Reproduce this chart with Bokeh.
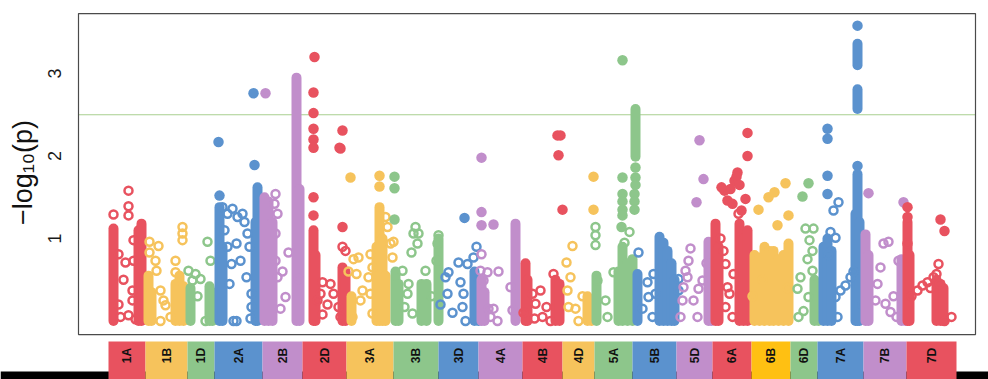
import numpy as np
from bokeh.plotting import figure
from bokeh.models import Range1d, ColumnDataSource
from bokeh.embed import file_html
from bokeh.resources import INLINE
from bokeh.core.properties import value

# ---------------- data ----------------
chrom_names = ["1A", "1B", "1D", "2A", "2B", "2D", "3A", "3B", "3D", "4A", "4B",
               "4D", "5A", "5B", "5D", "6A", "6B", "6D", "7A", "7B", "7D"]
chrom_len = [37, 42, 27, 48, 40, 44, 47, 45, 40, 44, 40, 32, 38, 44, 36, 39, 39, 27, 46, 43, 50]
palette = ["#E8525F", "#F6C35C", "#8DC68B", "#5B92CE", "#C18ECB"]
box_colors = [palette[i % 5] for i in range(len(chrom_names))]
box_colors[chrom_names.index("6B")] = "#FFC012"
threshold = 2.5
y_ticks = [1, 2, 3]
y_label = "\u2212log\u2081\u2080(p)"

# dense runs of markers: (chrom, position, low, high)
stacks = [
    ("1A", 5, 0, 1.12), ("1A", 30, 0, 1.1), ("1A", 33, 0, 1.18),
    ("1B", 3, 0, 0.55), ("1B", 6, 0, 0.35), ("1B", 30, 0, 0.45), ("1B", 34, 0, 0.55), ("1B", 38, 0, 0.42),
    ("1D", 3, 0, 0.4), ("1D", 22, 0, 0.42), ("1D", 25, 0, 0.35),
    ("2A", 5, 0, 1.38), ("2A", 8, 0, 0.9), ("2A", 41, 0, 1.2), ("2A", 43, 0, 1.62),
    ("2B", 2, 0, 1.5), ("2B", 6, 0, 1.45), ("2B", 10, 0, 1.2), ("2B", 34, 0, 2.95), ("2B", 37, 0, 1.6),
    ("2D", 11, 0, 1.1), ("2D", 13, 0, 0.8), ("2D", 40, 0, 0.65), ("2D", 43, 0, 0.6),
    ("3A", 5, 0, 0.3), ("3A", 30, 0, 0.9), ("3A", 33, 0, 1.38), ("3A", 36, 0, 1.0), ("3A", 39, 0, 0.55),
    ("3B", 2, 0, 0.6), ("3B", 5, 0, 0.45), ("3B", 28, 0, 0.45), ("3B", 33, 0, 0.45), ("3B", 45, 0, 1.0),
    ("3D", 36, 0, 0.6), ("3D", 40, 0, 0.45),
    ("4A", 3, 0, 0.5), ("4A", 6, 0, 0.35), ("4A", 37, 0, 1.18),
    ("4B", 3, 0, 0.7), ("4B", 5, 0, 0.5), ("4B", 33, 0, 0.5), ("4B", 37, 0, 0.45),
    ("4D", 25, 0, 0.3), ("4D", 29, 0, 0.25),
    ("5A", 2, 0, 0.55), ("5A", 24, 0, 0.6), ("5A", 28, 0, 0.9), ("5A", 33, 0, 0.7), ("5A", 38, 0, 0.75),
    ("5A", 41, 1.99, 2.57),
    ("5B", 5, 0, 0.57), ("5B", 27, 0, 1.02), ("5B", 31, 0, 0.95), ("5B", 35, 0, 0.85), ("5B", 39, 0, 0.7), ("5B", 42, 0, 0.5),
    ("5D", 32, 0, 0.96), ("5D", 35, 0, 0.7),
    ("6A", 3, 0, 1.18), ("6A", 6, 0, 0.9), ("6A", 27, 0, 1.18), ("6A", 31, 0, 1.0), ("6A", 35, 0, 1.1),
    ("6B", 3, 0, 0.8), ("6B", 8, 0, 0.77), ("6B", 13, 0, 0.9), ("6B", 18, 0, 0.85), ("6B", 22, 0, 0.85),
    ("6B", 27, 0, 0.75), ("6B", 32, 0, 0.8), ("6B", 37, 0, 0.94),
    ("6D", 24, 0, 0.5), ("6D", 28, 0, 0.45),
    ("7A", 6, 0, 0.9), ("7A", 10, 0, 1.0), ("7A", 14, 0, 0.85), ("7A", 38, 0, 1.3), ("7A", 40, 0, 1.78),
    ("7A", 42, 0, 1.2), ("7A", 40, 3.1, 3.36), ("7A", 40, 2.57, 2.81),
    ("7B", 2, 0, 1.05), ("7B", 5, 0, 0.8), ("7B", 38, 0, 0.75), ("7B", 42, 0, 0.65),
    ("7D", 1, 0, 1.2), ("7D", 3, 0, 0.8), ("7D", 30, 0, 0.5), ("7D", 34, 0, 0.45), ("7D", 37, 0, 0.4),
]

# strong markers (drawn filled): (chrom, position, -log10 p)
hits = [
    ("2A", 4, 2.17), ("2A", 39, 2.76), ("2A", 40, 1.89), ("2A", 5, 1.52),
    ("2B", 3, 2.76),
    ("2D", 12, 3.2), ("2D", 11, 2.77), ("2D", 11, 2.52), ("2D", 11, 2.33), ("2D", 11, 2.2), ("2D", 11, 2.1),
    ("2D", 11, 1.5), ("2D", 11, 1.28), ("2D", 40, 2.31), ("2D", 38, 2.09), ("2D", 37, 2.1), ("2D", 40, 1.14),
    ("3A", 4, 1.74), ("3A", 33, 1.76), ("3A", 33, 1.63),
    ("3B", 1, 1.75), ("3B", 1, 1.61), ("3B", 1, 1.23),
    ("3D", 26, 1.25),
    ("4A", 3, 1.98), ("4A", 3, 1.32), ("4A", 3, 1.16), ("4A", 15, 1.17),
    ("4B", 35, 2.25), ("4B", 38, 2.25), ("4B", 36, 2.01), ("4B", 40, 1.35),
    ("4D", 31, 1.75), ("4D", 31, 1.35),
    ("5A", 28, 3.16), ("5A", 28, 1.74), ("5A", 28, 1.54), ("5A", 28, 1.45), ("5A", 28, 1.35), ("5A", 28, 1.28),
    ("5A", 40, 1.54), ("5A", 40, 1.45), ("5A", 40, 1.35), ("5A", 41, 1.86), ("5A", 41, 1.74), ("5A", 41, 1.65),
    ("5A", 27, 1.14),
    ("5D", 23, 2.19), ("5D", 27, 1.72), ("5D", 20, 1.44),
    ("6A", 35, 2.28), ("6A", 35, 2.0), ("6A", 25, 1.8), ("6A", 22, 1.7), ("6A", 18, 1.6), ("6A", 12, 1.58),
    ("6A", 9, 1.62), ("6A", 15, 1.46), ("6A", 20, 1.42), ("6A", 33, 1.48), ("6A", 29, 1.34), ("6A", 24, 1.75),
    ("6A", 27, 1.65),
    ("6B", 7, 1.35), ("6B", 17, 1.5), ("6B", 23, 1.56), ("6B", 26, 1.16), ("6B", 34, 1.67), ("6B", 37, 1.28),
    ("6D", 18, 1.67), ("6D", 12, 1.51),
    ("7A", 10, 2.33), ("7A", 10, 2.21), ("7A", 10, 1.76), ("7A", 10, 1.54), ("7A", 40, 3.58), ("7A", 40, 1.88),
    ("7B", 5, 1.55), ("7B", 40, 1.44),
    ("7D", 1, 1.38), ("7D", 1, 1.26), ("7D", 34, 1.23), ("7D", 38, 1.09),
]

# other markers (drawn hollow): (chrom, position, -log10 p)
rings = [
    ("1A", 10, 0.81), ("1A", 17, 0.71), ("1A", 10, 0.2), ("1A", 12, 0.05), ("1A", 20, 0.07), ("1A", 25, 0.98),
    ("1A", 25, 0.73), ("1A", 24, 0.37), ("1A", 24, 0.25), ("1A", 20, 1.58), ("1A", 20, 1.39), ("1A", 20, 1.28),
    ("1A", 5, 1.29), ("1A", 15, 0.5), ("1A", 27, 0.02),
    ("1B", 4, 0.96), ("1B", 4, 0.83), ("1B", 10, 0.73), ("1B", 11, 0.61), ("1B", 13, 0.91), ("1B", 15, 0.37),
    ("1B", 18, 0.25), ("1B", 20, 0.19), ("1B", 15, 0.0), ("1B", 30, 0.73), ("1B", 30, 0.59), ("1B", 37, 1.14),
    ("1B", 37, 1.06), ("1B", 37, 0.98), ("1B", 25, 0.05),
    ("1D", 1, 0.61), ("1D", 8, 0.57), ("1D", 13, 0.51), ("1D", 20, 0.96), ("1D", 23, 0.73), ("1D", 5, 0.49),
    ("1D", 18, 0.0), ("1D", 10, 0.3),
    ("2A", 8, 1.38), ("2A", 13, 1.3), ("2A", 18, 1.36), ("2A", 23, 1.26), ("2A", 28, 1.3), ("2A", 10, 1.1),
    ("2A", 13, 0.9), ("2A", 17, 0.69), ("2A", 22, 0.94), ("2A", 26, 0.73), ("2A", 33, 1.06), ("2A", 35, 0.9),
    ("2A", 32, 0.53), ("2A", 37, 0.33), ("2A", 37, 0.17), ("2A", 19, 0.0), ("2A", 22, 0.0), ("2A", 36, 0.03),
    ("2A", 30, 1.2), ("2A", 15, 0.45),
    ("2B", 13, 1.54), ("2B", 12, 1.42), ("2B", 15, 1.3), ("2B", 13, 1.06), ("2B", 13, 0.73), ("2B", 15, 0.53),
    ("2B", 23, 0.29), ("2B", 26, 0.83), ("2B", 18, 0.15), ("2B", 36, 0.51), ("2B", 20, 0.6),
    ("2D", 20, 0.47), ("2D", 28, 0.45), ("2D", 31, 0.33), ("2D", 36, 0.17), ("2D", 20, 0.08), ("2D", 18, 0.33),
    ("2D", 38, 0.05), ("2D", 40, 0.9), ("2D", 43, 0.85), ("2D", 15, 0.25), ("2D", 25, 0.2),
    ("3A", 7, 0.75), ("3A", 12, 0.77), ("3A", 10, 0.57), ("3A", 16, 0.37), ("3A", 14, 0.25), ("3A", 6, 0.05),
    ("3A", 24, 0.81), ("3A", 26, 0.65), ("3A", 22, 0.53), ("3A", 24, 0.33), ("3A", 26, 0.09), ("3A", 44, 0.94),
    ("3A", 47, 0.96), ("3A", 46, 0.77), ("3A", 41, 1.14), ("3A", 39, 1.26), ("3A", 2, 0.6),
    ("3B", 9, 0.61), ("3B", 15, 0.45), ("3B", 14, 0.33), ("3B", 11, 0.17), ("3B", 19, 0.09), ("3B", 22, 1.14),
    ("3B", 20, 1.06), ("3B", 24, 0.94), ("3B", 18, 0.83), ("3B", 25, 1.06), ("3B", 32, 0.61), ("3B", 45, 1.04),
    ("3B", 44, 0.94), ("3B", 43, 0.73), ("3B", 38, 0.3),
    ("3D", 10, 0.59), ("3D", 7, 0.53), ("3D", 9, 0.33), ("3D", 20, 0.71), ("3D", 29, 0.69), ("3D", 22, 0.47),
    ("3D", 25, 0.33), ("3D", 24, 0.17), ("3D", 27, 0.0), ("3D", 35, 0.77), ("3D", 38, 0.9), ("3D", 2, 0.2),
    ("3D", 14, 0.1),
    ("4A", 3, 0.81), ("4A", 2, 0.61), ("4A", 5, 0.49), ("4A", 9, 0.59), ("4A", 10, 0.15), ("4A", 15, 0.15),
    ("4A", 19, 0.0), ("4A", 12, 0.05), ("4A", 32, 0.41), ("4A", 34, 0.13), ("4A", 20, 0.6),
    ("4B", 10, 0.33), ("4B", 18, 0.37), ("4B", 13, 0.21), ("4B", 20, 0.05), ("4B", 12, 0.03), ("4B", 24, 0.17),
    ("4B", 28, 0.0), ("4B", 31, 0.57), ("4B", 1, 0.1),
    ("4D", 10, 0.91), ("4D", 4, 0.71), ("4D", 8, 0.53), ("4D", 5, 0.37), ("4D", 6, 0.17), ("4D", 13, 0.15),
    ("4D", 16, 0.0), ("4D", 20, 0.3),
    ("5A", 1, 1.14), ("5A", 1, 1.04), ("5A", 1, 0.92), ("5A", 3, 0.49), ("5A", 13, 0.05), ("5A", 19, 0.59),
    ("5A", 11, 0.25), ("5A", 35, 1.08), ("5A", 30, 0.95),
    ("5B", 6, 0.83), ("5B", 15, 0.47), ("5B", 21, 0.57), ("5B", 23, 0.33), ("5B", 16, 0.29), ("5B", 20, 0.05),
    ("5B", 46, 0.51), ("5B", 46, 0.37), ("5B", 10, 0.15),
    ("5D", 14, 0.88), ("5D", 12, 0.73), ("5D", 9, 0.61), ("5D", 11, 0.53), ("5D", 7, 0.41), ("5D", 6, 0.25),
    ("5D", 4, 0.05), ("5D", 17, 0.25), ("5D", 22, 0.39), ("5D", 26, 0.49), ("5D", 21, 0.05), ("5D", 30, 0.7),
    ("6A", 11, 0.85), ("6A", 13, 0.69), ("6A", 15, 0.41), ("6A", 13, 0.17), ("6A", 20, 0.05), ("6A", 17, 0.33),
    ("6A", 21, 0.57), ("6A", 26, 1.3), ("6A", 8, 1.0),
    ("6B", 1, 0.3), ("6B", 11, 0.5), ("6B", 36, 0.4),
    ("6D", 15, 1.12), ("6D", 23, 1.12), ("6D", 19, 0.98), ("6D", 22, 0.85), ("6D", 17, 0.75), ("6D", 22, 0.61),
    ("6D", 10, 0.53), ("6D", 7, 0.39), ("6D", 18, 0.29), ("6D", 13, 0.12), ("6D", 8, 0.05),
    ("7A", 21, 1.44), ("7A", 16, 1.34), ("7A", 13, 1.08), ("7A", 18, 1.01), ("7A", 11, 0.8), ("7A", 23, 0.37),
    ("7A", 28, 0.43), ("7A", 33, 0.53), ("7A", 36, 0.6), ("7A", 18, 0.29), ("7A", 20, 0.05), ("7A", 45, 0.2),
    ("7B", 20, 0.94), ("7B", 25, 0.96), ("7B", 17, 0.65), ("7B", 14, 0.45), ("7B", 22, 0.21), ("7B", 27, 0.11),
    ("7B", 12, 0.25), ("7B", 35, 0.73), ("7B", 30, 0.3), ("7B", 33, 0.05),
    ("7D", 11, 0.37), ("7D", 16, 0.43), ("7D", 21, 0.47), ("7D", 27, 0.53), ("7D", 32, 0.69), ("7D", 30, 0.57),
    ("7D", 33, 0.45), ("7D", 24, 0.4), ("7D", 38, 0.0), ("7D", 5, 0.3), ("7D", 1, 0.94), ("7D", 45, 0.05),
]

# ---------------- derived ----------------
starts = np.concatenate([[0], np.cumsum(chrom_len)[:-1]]).astype(float)
ends = starts + np.array(chrom_len, dtype=float)
start_of = dict(zip(chrom_names, starts))
color_of = {c: palette[i % 5] for i, c in enumerate(chrom_names)}
total = float(sum(chrom_len))

FONT = "Liberation Sans"

# layout of the single canvas (data units: x in position units, y in -log10 p)
X_LO, X_HI = -108.0, total + 32.0          # full canvas width
BOX_L, BOX_R = -30.0, total + 19.0         # plotting box
Y_LO, Y_HI = -0.709, 3.885                 # full canvas height
BOX_B, BOX_T = -0.164, 3.727
STRIP_TOP, BAND_TOP, STRIP_TXT = -0.248, -0.612, -0.418

p = figure(frame_width=988, frame_height=379,
           x_range=Range1d(X_LO, X_HI), y_range=Range1d(Y_LO, Y_HI),
           output_backend="svg", toolbar_location=None,
           min_border_left=0, min_border_right=0, min_border_top=0, min_border_bottom=0)
p.axis.visible = False
p.grid.visible = False
p.outline_line_color = None
p.background_fill_color = "white"
p.border_fill_color = "white"

# threshold line inside the box
p.segment(x0=[BOX_L], y0=[threshold], x1=[BOX_R], y1=[threshold], line_color="#A9CF8F", line_width=1.2)

for c in chrom_names:
    col = color_of[c]
    st = [s for s in stacks if s[0] == c]
    if st:
        xs = [start_of[c] + s[1] for s in st]
        p.segment(x0=xs, y0=[s[2] for s in st], x1=xs, y1=[s[3] for s in st],
                  line_color=col, line_width=10, line_cap="round")
    rg = [r for r in rings if r[0] == c]
    if rg:
        p.scatter(x=[start_of[c] + r[1] for r in rg], y=[r[2] for r in rg], marker="circle",
                  size=8, fill_color=None, line_color=col, line_width=2.5)
    ht = [h for h in hits if h[0] == c]
    if ht:
        p.scatter(x=[start_of[c] + h[1] for h in ht], y=[h[2] for h in ht], marker="circle",
                  size=10.5, fill_color=col, line_color=None)

# plotting box outline
p.quad(left=[BOX_L], right=[BOX_R], bottom=[BOX_B], top=[BOX_T], fill_color=None,
       line_color="#4a4a4a", line_width=1.2)

# y tick labels and axis title
p.text(x=[BOX_L - 24] * len(y_ticks), y=y_ticks, text=[str(t) for t in y_ticks], angle=np.pi / 2,
       text_align="center", text_baseline="middle", text_font=value(FONT), text_font_size="18px",
       text_color="#1a1a1a")
p.text(x=[BOX_L - 56], y=[1.8], text=[y_label], angle=np.pi / 2, text_align="center",
       text_baseline="middle", text_font=value(FONT), text_font_size="27px", text_color="#111111")

# chromosome strip
p.quad(left=[X_LO], right=[X_HI], bottom=[Y_LO], top=[BAND_TOP], fill_color="black", line_color=None)
src = ColumnDataSource(dict(left=starts, right=ends, mid=(starts + ends) / 2.0,
                            name=chrom_names, color=box_colors))
p.quad(left="left", right="right", bottom=Y_LO, top=STRIP_TOP, fill_color="color", line_color=None, source=src)
p.text(x="mid", y=STRIP_TXT, text="name", source=src, angle=np.pi / 2, text_align="center",
       text_baseline="middle", text_font=value(FONT), text_font_style="bold",
       text_font_size="12px", text_color="#111111")

open("out.html", "w").write(file_html(p, INLINE))
